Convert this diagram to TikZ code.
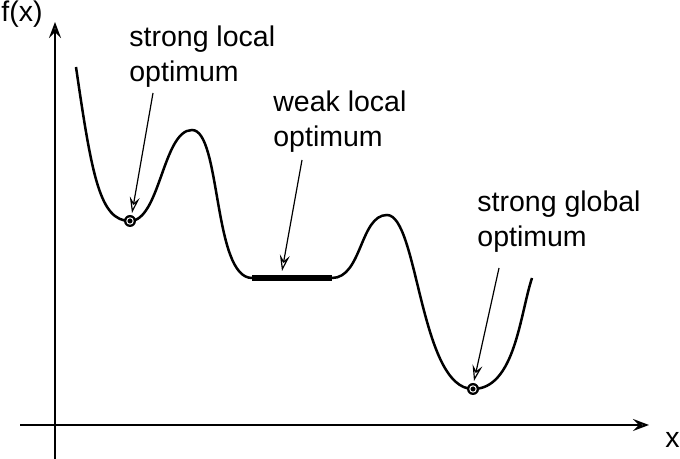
\documentclass[tikz,border=0pt]{standalone}
\usepackage{fontspec}
\setmainfont{Liberation Sans}
\usetikzlibrary{arrows.meta}
\tikzset{
    axis/.style = {line width=1pt, -{Stealth[open,length=8pt,width=6pt,inset=3pt]}},
    pointer/.style = {line width=0.6pt, -{Stealth[open,length=8pt,width=5pt,inset=3pt]}},
    curve/.style = {line width=1.25pt},
    flat/.style = {line width=2.6pt},
    label/.style = {align=left, anchor=base west, inner sep=0pt}
}

\begin{document}
\begin{tikzpicture}[x=0.5pt,y=0.5pt,font=\fontsize{14.25}{17.5}\selectfont]
    \useasboundingbox (0,0) rectangle (680,459);
    % axes
    \coordinate (o) at (55,34);
    \coordinate (xs) at (20,34);
    \coordinate (xe) at (649,34);
    \coordinate (ys) at (55,0);
    \coordinate (ye) at (55,437);
    \draw[axis] (xs) -- (xe);
    \draw[axis] (ys) -- (ye);
    \node[label] (fx) at (1,437) {f(x)};
    \node[label] (xl) at (665,11) {x};

    % the function
    \coordinate (s) at (76,392);
    \coordinate (m1) at (130,238);
    \coordinate (p1) at (192,329);
    \coordinate (f1) at (252,181);
    \coordinate (f2) at (332,181);
    \coordinate (p2) at (387,244);
    \coordinate (m2) at (473,70);
    \coordinate (e) at (532,181);
    \draw[curve] (s) .. controls (92,282) and (100,238) .. (m1)
        .. controls (160,238) and (163,329) .. (p1)
        .. controls (221,329) and (213,181) .. (f1);
    \draw[flat] (f1) -- (f2);
    \draw[curve] (f2) .. controls (362,181) and (360,244) .. (p2)
        .. controls (418,244) and (420,70) .. (m2)
        .. controls (515,70) and (520,145) .. (e);

    % optima
    \foreach \m in {m1,m2} {
        \fill (\m) circle (6);
        \draw[white,line width=0.5pt] (\m) circle (3.2);
    }

    % labels
    \node[label] (loc) at (129,377) {strong local\\optimum};
    \node[label] (weak) at (273,312) {weak local\\optimum};
    \node[label] (glob) at (477,212) {strong global\\optimum};
    \coordinate (loc a) at (153,366);
    \coordinate (weak a) at (302,299);
    \coordinate (glob a) at (499,191);
    \coordinate (loc b) at (132,246);
    \coordinate (weak b) at (282,188);
    \coordinate (glob b) at (474,78);
    \draw[pointer] (loc a) -- (loc b);
    \draw[pointer] (weak a) -- (weak b);
    \draw[pointer] (glob a) -- (glob b);
\end{tikzpicture}
\end{document}
